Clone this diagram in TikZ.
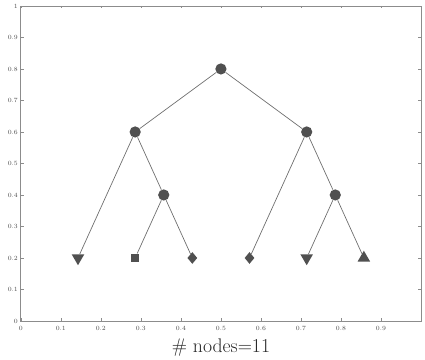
\documentclass[tikz,border=0pt]{standalone}
\usepackage{tikz}
\usetikzlibrary{shapes.geometric, positioning, calc}
\definecolor{axisgray}{RGB}{140, 140, 140}
\definecolor{edgegray}{RGB}{110, 110, 110}
\definecolor{markgray}{RGB}{80, 80, 80}

\begin{document}
\begin{tikzpicture}[x=12.12cm, y=9.54cm,
    ticklabel/.style={font=\fontsize{5.5}{6.5}\selectfont, text=black!70, inner sep=1pt},
    inner/.style={circle, fill=markgray, minimum size=0.34cm, inner sep=0pt},
    leafdown/.style={regular polygon, regular polygon sides=3, shape border rotate=180, fill=markgray, minimum size=0.44cm, inner sep=0pt},
    leafup/.style={regular polygon, regular polygon sides=3, fill=markgray, minimum size=0.44cm, inner sep=0pt},
    leafsquare/.style={rectangle, fill=markgray, minimum size=0.26cm, inner sep=0pt},
    leafdiamond/.style={diamond, fill=markgray, minimum width=0.3cm, minimum height=0.36cm, inner sep=0pt},
    branch/.style={edgegray, line width=0.6pt}]
    \useasboundingbox (-0.052,-0.1226) rectangle (1.0099,1.0189);

    % Axis frame and ticks
    \draw[axisgray, line width=0.6pt] (0,0) rectangle (1,1);
    \foreach \t in {0,1,...,9} {
        \pgfmathsetmacro{\v}{\t/10}
        \draw[axisgray] (\v,0) -- ++(0,0.008);
        \draw[axisgray] (\v,1) -- ++(0,-0.008);
        \node[ticklabel, anchor=north] at (\v,-0.012) {\ifnum\t=0 0\else 0.\t\fi};
    }
    \foreach \t in {0,1,...,9} {
        \pgfmathsetmacro{\v}{\t/10}
        \draw[axisgray] (0,\v) -- ++(0.007,0);
        \draw[axisgray] (1,\v) -- ++(-0.007,0);
        \node[ticklabel, anchor=east] at (-0.004,\v) {\ifnum\t=0 0\else 0.\t\fi};
    }
    \node[ticklabel, anchor=east] at (-0.004,1) {1};

    % Tree nodes
    \node[inner] (Root) at (0.5,0.8) {};
    \node[inner] (Left) at (2/7,0.6) {};
    \node[inner] (Right) at (5/7,0.6) {};
    \node[inner] (LeftMid) at (2.5/7,0.4) {};
    \node[inner] (RightMid) at (5.5/7,0.4) {};
    \node[leafdown] (LeafA) at (1/7,0.2) {};
    \node[leafsquare] (LeafB) at (2/7,0.2) {};
    \node[leafdiamond] (LeafC) at (3/7,0.2) {};
    \node[leafdiamond] (LeafD) at (4/7,0.2) {};
    \node[leafdown] (LeafE) at (5/7,0.2) {};
    \node[leafup] (LeafF) at (6/7,0.2) {};

    % Branches
    \draw[branch] (Root) -- (Left);
    \draw[branch] (Root) -- (Right);
    \draw[branch] (Left) -- (LeafA);
    \draw[branch] (Left) -- (LeftMid);
    \draw[branch] (LeftMid) -- (LeafB);
    \draw[branch] (LeftMid) -- (LeafC);
    \draw[branch] (Right) -- (LeafD);
    \draw[branch] (Right) -- (RightMid);
    \draw[branch] (RightMid) -- (LeafE);
    \draw[branch] (RightMid) -- (LeafF);

    \node[font=\fontsize{17}{20}\selectfont, text=black!85] (Caption) at (0.5,-0.085) {\# nodes=11};
\end{tikzpicture}
\end{document}
